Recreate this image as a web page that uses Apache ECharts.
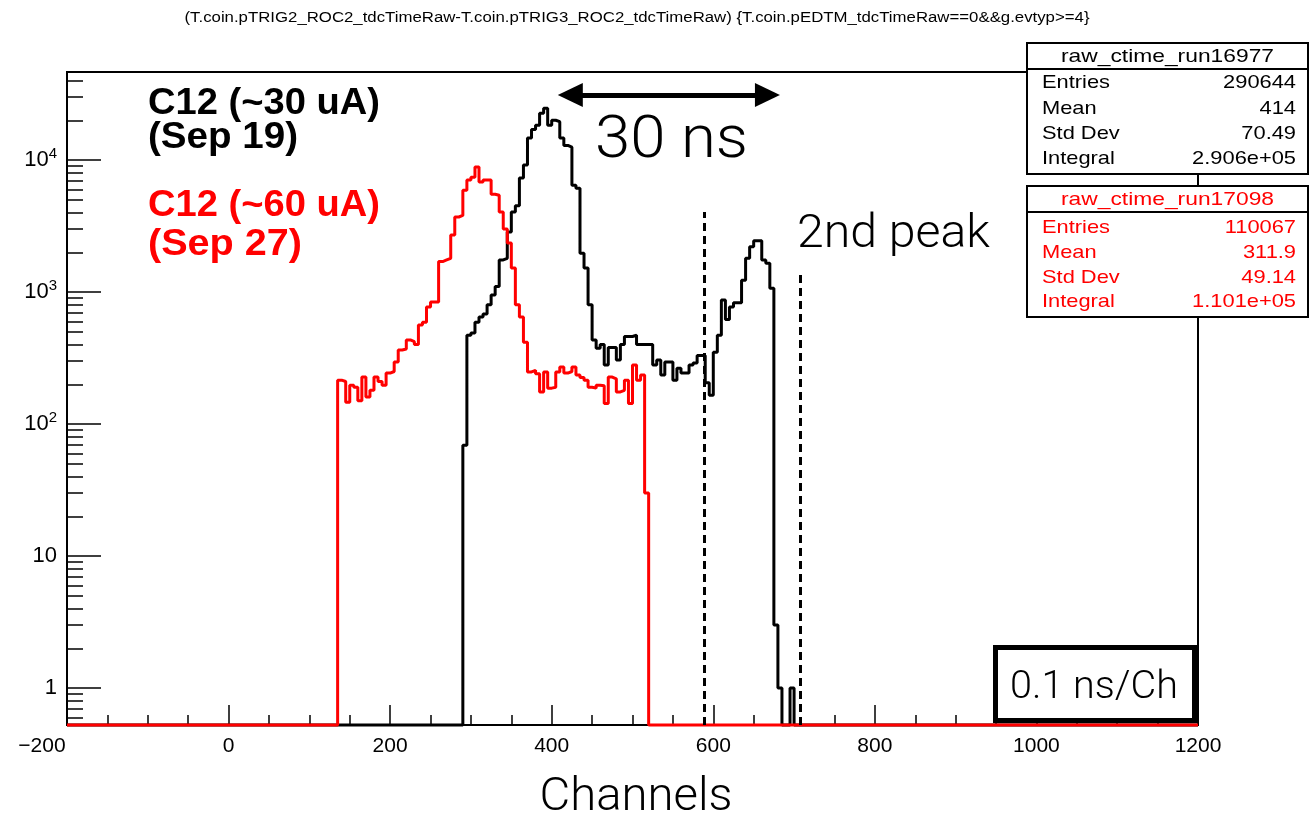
<!DOCTYPE html>
<html><head><meta charset="utf-8">
<script src="https://cdn.jsdelivr.net/npm/echarts@6/dist/echarts.min.js"></script>
<style>html,body{margin:0;padding:0;background:#fff}#c{width:1310px;height:817px}</style>
</head><body><div id="c"></div>
<script>
// ---------------- data ----------------
const titleText = '(T.coin.pTRIG2_ROC2_tdcTimeRaw-T.coin.pTRIG3_ROC2_tdcTimeRaw) {T.coin.pEDTM_tdcTimeRaw==0&&g.evtyp>=4}';
const xRange = [-200, 1200];
const binWidth = 5;
const yDecades = [0, 1, 2, 3, 4];            // log10 of 1 .. 10^4
const yMinorCounts = [0.6,0.7,0.8,0.9, 2,3,4,5,6,7,8,9, 20,30,40,50,60,70,80,90, 200,300,400,500,600,700,800,900, 2000,3000,4000,5000,6000,7000,8000,9000, 20000,30000,40000];
const yRangeCounts = [0.525, 46400];

const blackName = 'raw_ctime_run16977';
const blackStart = 290;
const blackCounts = [69, 470, 490, 590, 646, 680, 800, 950, 1100, 1750, 1800, 2850, 4040, 4500, 7300, 9150, 14700, 17000, 18300, 22600, 24700, 18300, 20000, 19500, 14700, 12900, 12500, 6450, 6100, 1970, 1520, 800, 433, 375, 400, 280, 380, 380, 305, 400, 460, 460, 470, 400, 400, 400, 400, 280, 305, 235, 295, 295, 215, 265, 243, 243, 280, 290, 330, 330, 205, 165, 350, 470, 870, 620, 770, 830, 830, 1230, 1800, 2200, 2450, 2450, 1750, 1650, 1070, 3, 1, 0, 0, 1];
const blackStats = [['Entries','290644'],['Mean','414'],['Std Dev','70.49'],['Integral','2.906e+05']];

const redName = 'raw_ctime_run17098';
const redStart = 135;
const redCounts = [215, 210, 146, 197, 190, 150, 227, 160, 180, 227, 210, 197, 243, 250, 295, 364, 370, 433, 420, 400, 562, 590, 770, 840, 840, 1700, 1750, 1800, 2700, 3700, 3800, 5900, 7050, 7400, 8850, 6800, 7050, 7050, 5500, 5400, 4040, 3000, 2350, 1520, 800, 646, 417, 248, 255, 240, 175, 248, 187, 190, 248, 270, 243, 250, 270, 235, 225, 215, 190, 187, 197, 195, 143, 227, 220, 175, 180, 215, 143, 280, 215, 235, 30];
const redStats = [['Entries','110067'],['Mean','311.9'],['Std Dev','49.14'],['Integral','1.101e+05']];

const legendBlack = ['C12 (~30 uA)', '(Sep 19)'];
const legendRed = ['C12 (~60 uA)', '(Sep 27)'];
const dashLines = [[589, 4040], [708, 1470]];   // [channel, top count]
const arrowSpan = [423, 667, 31000];            // channel from, to, at count level

// ---------------- helpers ----------------
const YMIN = Math.log10(yRangeCounts[0]);
const YMAX = Math.log10(yRangeCounts[1]);
function lg(v){ return v > 0 ? Math.log10(v) : YMIN; }
function buildPoints(start, counts){
  const pts = [[xRange[0], YMIN], [start, YMIN]];
  counts.forEach((c, i) => {
    const lo = start + i*binWidth, hi = lo + binWidth, y = lg(c);
    pts.push([lo, y], [hi, y]);
  });
  const end = start + counts.length*binWidth;
  pts.push([end, YMIN], [xRange[1], YMIN]);
  return pts;
}
const ctx = document.createElement('canvas').getContext('2d');
function fit(text, font, target){ ctx.font = font; return target / ctx.measureText(text).width; }

const SANS = '"Liberation Sans", Arial, Helvetica, sans-serif';
const LIGHT = 'Roboto, "Open Sans", Lato, sans-serif';

function txt(text, x, y, opt){
  const size = opt.size, weight = opt.weight || 'normal', fam = opt.family || SANS;
  const font = weight + ' ' + size + 'px ' + fam;
  const sx = opt.width ? fit(text, font, opt.width) : (opt.scaleX || 1);
  return {type:'text', x:x, y:y, scaleX:sx, z:100, silent:true,
    style:{text:text, fontSize:size, fontWeight:weight, fontFamily:fam, fill:opt.color||'#000',
      align:opt.align||'left', textAlign:opt.align||'left', verticalAlign:'middle', textVerticalAlign:'middle'}};
}

// stats boxes
function statsBox(x, y, w, h, headerH, name, stats, color, rowYs){
  const els = [];
  els.push({type:'rect', z:90, silent:true, shape:{x:x, y:y, width:w, height:h}, style:{fill:'#fff', stroke:'#000', lineWidth:2}});
  els.push({type:'line', z:91, silent:true, shape:{x1:x, y1:y+headerH, x2:x+w, y2:y+headerH}, style:{stroke:'#000', lineWidth:2}});
  els.push(txt(name, x + w/2, y + headerH/2 + 1, {size:19, color:color, align:'center', width:213}));
  stats.forEach((s, i) => {
    els.push(txt(s[0], x + 15, rowYs[i], {size:19, color:color, align:'left', scaleX:1.15}));
    els.push(txt(s[1], x + w - 12, rowYs[i], {size:19, color:color, align:'right', scaleX:1.15}));
  });
  return els;
}

const graphics = [];
graphics.push(txt(titleText, 637, 18, {size:14, width:905, align:'center'}));
graphics.push(txt(legendBlack[0], 148, 104, {size:36, weight:'bold', width:232}));
graphics.push(txt(legendBlack[1], 148, 138, {size:36, weight:'bold', width:150}));
graphics.push(txt(legendRed[0], 148, 206, {size:36, weight:'bold', width:232, color:'#ff0000'}));
graphics.push(txt(legendRed[1], 148, 245, {size:36, weight:'bold', width:154, color:'#ff0000'}));
graphics.push(txt('30 ns', 595, 142, {size:60, weight:300, family:LIGHT, width:153}));
graphics.push(txt('2nd peak', 797, 235, {size:46, weight:300, family:LIGHT, width:193}));
graphics.push(txt('Channels', 636, 798, {size:46, weight:300, family:LIGHT, width:193, align:'center'}));
graphics.push({type:'rect', z:90, silent:true, shape:{x:995.5, y:647.5, width:199, height:73}, style:{fill:'#fff', stroke:'#000', lineWidth:5}});
graphics.push(txt('0.1 ns/Ch', 1094, 688, {size:38, weight:300, family:LIGHT, width:168, align:'center'}));
statsBox(1027, 43, 281, 131, 26, blackName, blackStats, '#000', [83, 109, 134, 159]).forEach(e => graphics.push(e));
statsBox(1027, 186, 281, 131, 26, redName, redStats, '#ff0000', [228, 253, 278, 302]).forEach(e => graphics.push(e));

const chart = echarts.init(document.getElementById('c'), null, {renderer:'canvas'});
chart.setOption({
  animation:false,
  backgroundColor:'#fff',
  grid:{left:67, top:72, width:1131, height:653, show:true, borderColor:'#000', borderWidth:2, backgroundColor:'transparent'},
  xAxis:{type:'value', min:xRange[0], max:xRange[1], interval:200,
    axisLine:{show:true, onZero:false, lineStyle:{color:'#000', width:2}},
    axisTick:{show:true, inside:true, length:20, lineStyle:{color:'#000', width:1.5}},
    minorTick:{show:true, splitNumber:4, length:10, lineStyle:{color:'#000', width:1.5}},
    splitLine:{show:false}, minorSplitLine:{show:false},
    axisLabel:{color:'#000', fontSize:21, fontFamily:SANS, margin:11,
      formatter:function(v){ return v < 0 ? '{n|\u2212' + Math.abs(v) + '}' : '' + v; },
      rich:{n:{fontSize:21, fontFamily:SANS, color:'#000', padding:[0,50,0,0]}}}
  },
  yAxis:[
    {type:'value', min:YMIN, max:YMAX, position:'left',
      axisLine:{show:true, onZero:false, lineStyle:{color:'#000', width:2}},
      axisTick:{show:true, inside:true, length:34, customValues:yDecades, lineStyle:{color:'#000', width:1.5}},
      splitLine:{show:false},
      axisLabel:{customValues:yDecades, margin:10, color:'#000',
        formatter:function(v){ v = Math.round(v); if (v === 0) return '{b|1}'; if (v === 1) return '{b|10}'; return '{b|10}{s|' + v + '}'; },
        rich:{b:{fontSize:22, fontFamily:SANS, color:'#000'}, s:{fontSize:15, fontFamily:SANS, color:'#000', padding:[0,0,12,0]}}}
    },
    {type:'value', min:YMIN, max:YMAX, position:'left',
      axisLine:{show:false, onZero:false},
      axisTick:{show:true, inside:true, length:16, customValues:yMinorCounts.map(v => Math.log10(v)), lineStyle:{color:'#000', width:1.5}},
      axisLabel:{show:false}, splitLine:{show:false}
    }
  ],
  series:[
    {name:blackName, type:'line', data:buildPoints(blackStart, blackCounts), showSymbol:false, symbol:'none', clip:false,
      lineStyle:{color:'#000', width:3}, z:3,
      markLine:{silent:true, symbol:['none','none'], label:{show:false}, animation:false,
        lineStyle:{color:'#000', width:3, type:[8,5]},
        data:dashLines.map(d => [{coord:[d[0], YMIN]}, {coord:[d[0], Math.log10(d[1])]}])}
    },
    {name:redName, type:'line', data:buildPoints(redStart, redCounts), showSymbol:false, symbol:'none', clip:false,
      lineStyle:{color:'#ff0000', width:3}, z:4,
      markLine:{silent:true, symbol:['triangle','triangle'], symbolSize:[24,25], label:{show:false}, animation:false,
        lineStyle:{color:'#000', width:5, type:'solid'}, itemStyle:{color:'#000'},
        data:[[{coord:[arrowSpan[0], Math.log10(arrowSpan[2])]}, {coord:[arrowSpan[1], Math.log10(arrowSpan[2])]}]]}
    }
  ],
  graphic:graphics
});
</script>
</body></html>
